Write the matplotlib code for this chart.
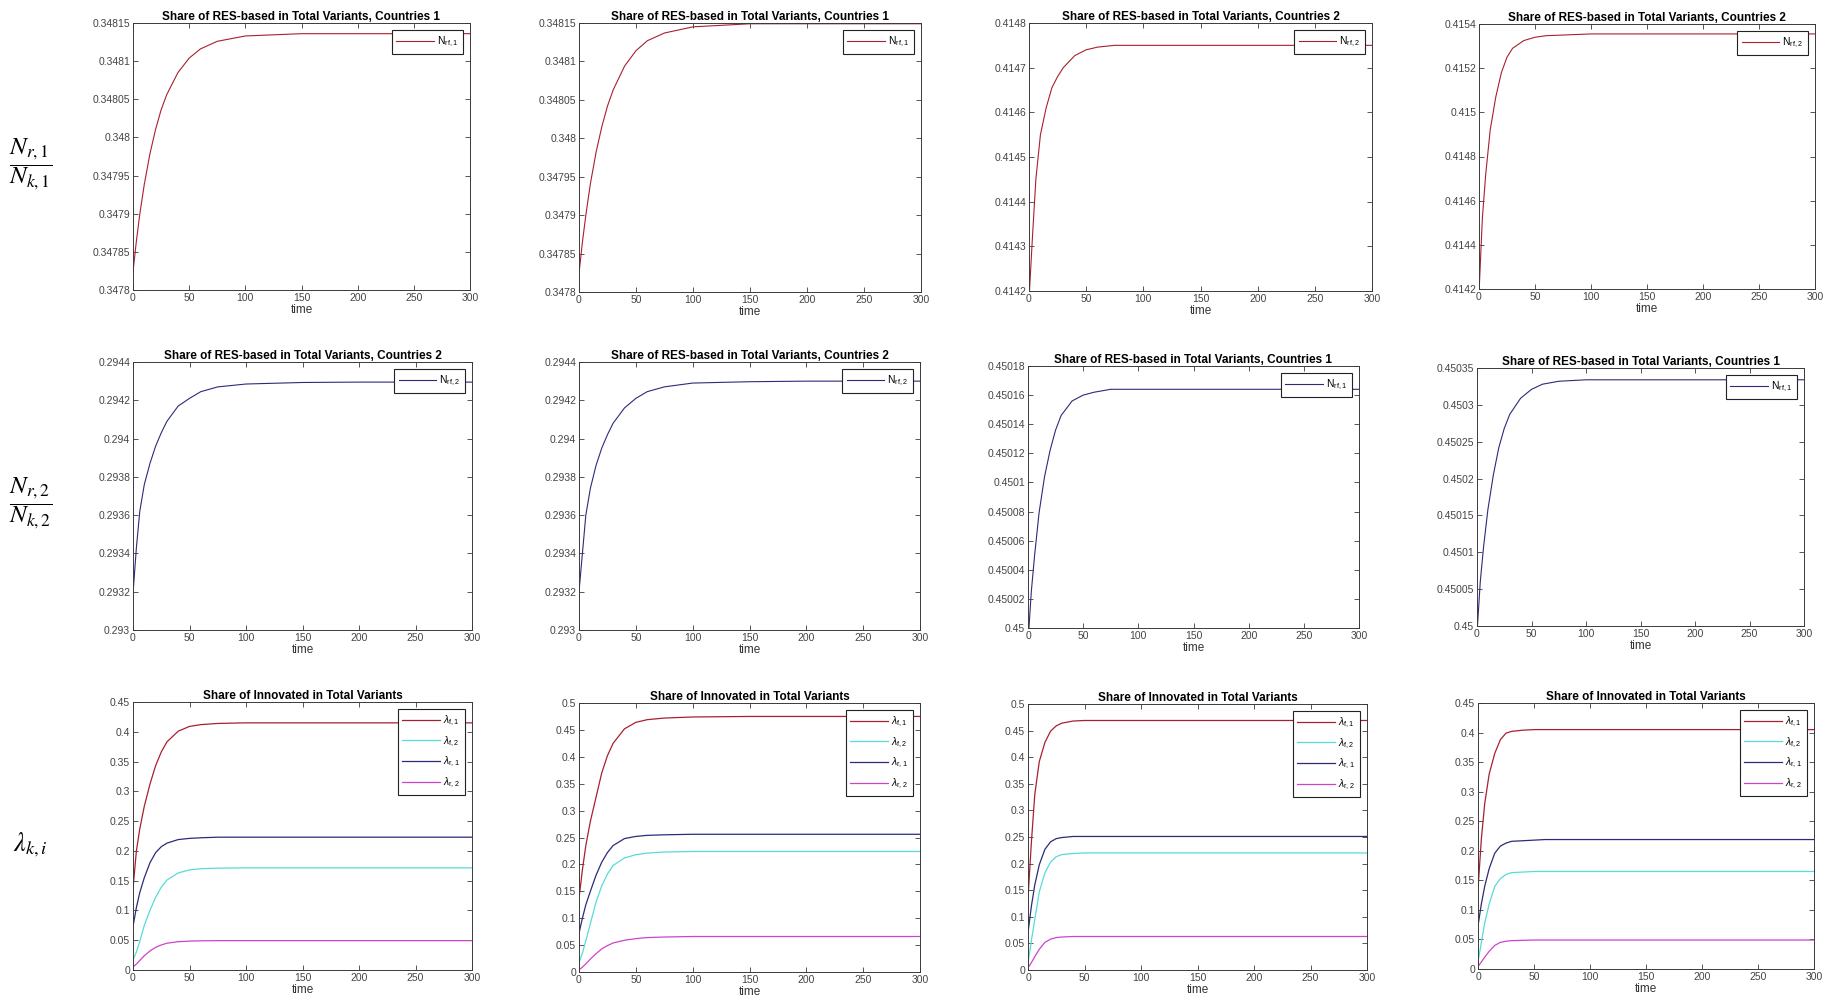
import matplotlib.pyplot as plt
import numpy as np
from matplotlib.ticker import FuncFormatter

plt.rcParams["font.family"] = "Liberation Sans"
plt.rcParams["mathtext.fontset"] = "custom"
plt.rcParams["mathtext.rm"] = "Liberation Sans"
plt.rcParams["mathtext.it"] = "Liberation Sans:italic"
plt.rcParams["mathtext.bf"] = "Liberation Sans:bold"

T = [0, 3, 6, 10, 15, 20, 25, 30, 40, 50, 60, 75, 100, 150, 200, 300]

# row 1: N_r/N_k shares
share_a = [0.347824, 0.347864, 0.347899, 0.347938, 0.347978, 0.348010, 0.348036, 0.348056,
           0.348085, 0.348104, 0.348116, 0.348126, 0.348133, 0.348136, 0.348136, 0.348136]
share_b = [0.347824, 0.347865, 0.347900, 0.347941, 0.347982, 0.348015, 0.348042, 0.348063,
           0.348094, 0.348114, 0.348127, 0.348137, 0.348145, 0.348149, 0.348149, 0.348149]
share_c = [0.41418, 0.41432, 0.41445, 0.41455, 0.41461, 0.414655, 0.41468, 0.4147,
           0.414727, 0.41474, 0.414746, 0.41475, 0.41475, 0.41475, 0.41475, 0.41475]
share_d = [0.41418, 0.41452, 0.41472, 0.41492, 0.41507, 0.41518, 0.41525, 0.41529,
           0.415325, 0.41534, 0.415347, 0.41535, 0.415355, 0.415355, 0.415355, 0.415355]
# row 2
share_e = [0.29319, 0.29343, 0.29362, 0.29376, 0.29387, 0.29396, 0.29403, 0.29409,
           0.29417, 0.29421, 0.294245, 0.29427, 0.294285, 0.294293, 0.294295, 0.294295]
share_f = [0.29320, 0.29340, 0.29360, 0.29374, 0.29386, 0.29395, 0.29402, 0.29408,
           0.29416, 0.29421, 0.294245, 0.29427, 0.29429, 0.294297, 0.2943, 0.2943]
share_g = [0.44999, 0.450025, 0.45005, 0.450079, 0.450104, 0.450122, 0.450136, 0.450146,
           0.450156, 0.45016, 0.450162, 0.450164, 0.450164, 0.450164, 0.450164, 0.450164]
share_h = [0.44999, 0.45006, 0.450107, 0.450158, 0.450205, 0.450242, 0.450268, 0.450287,
           0.450309, 0.450321, 0.450328, 0.450332, 0.450334, 0.450334, 0.450334, 0.450334]

# row 3: lambda shares, one set per column
lam1_f1 = [0.137, 0.20, 0.237, 0.275, 0.312, 0.343, 0.366, 0.383, 0.401, 0.409, 0.412, 0.414, 0.415, 0.415, 0.415, 0.415]
lam1_f2 = [0.017, 0.03, 0.048, 0.075, 0.10, 0.122, 0.139, 0.151, 0.163, 0.168, 0.170, 0.171, 0.1715, 0.1715, 0.1715, 0.1715]
lam1_r1 = [0.073, 0.105, 0.13, 0.155, 0.18, 0.197, 0.207, 0.213, 0.219, 0.221, 0.222, 0.223, 0.223, 0.223, 0.223, 0.223]
lam1_r2 = [0.005, 0.010, 0.016, 0.024, 0.032, 0.038, 0.042, 0.045, 0.0475, 0.0485, 0.049, 0.0493, 0.0493, 0.0493, 0.0493, 0.0493]

lam2_f1 = [0.137, 0.19, 0.235, 0.28, 0.325, 0.37, 0.402, 0.425, 0.452, 0.464, 0.469, 0.472, 0.474, 0.475, 0.475, 0.475]
lam2_f2 = [0.017, 0.035, 0.058, 0.09, 0.13, 0.16, 0.182, 0.198, 0.212, 0.218, 0.221, 0.223, 0.224, 0.224, 0.224, 0.224]
lam2_r1 = [0.072, 0.10, 0.125, 0.15, 0.18, 0.204, 0.222, 0.235, 0.248, 0.252, 0.254, 0.255, 0.256, 0.256, 0.256, 0.256]
lam2_r2 = [0.004, 0.009, 0.015, 0.024, 0.034, 0.043, 0.049, 0.054, 0.059, 0.062, 0.064, 0.065, 0.066, 0.066, 0.066, 0.066]

lam3_f1 = [0.135, 0.24, 0.33, 0.392, 0.428, 0.449, 0.459, 0.464, 0.468, 0.469, 0.469, 0.469, 0.469, 0.469, 0.469, 0.469]
lam3_f2 = [0.013, 0.055, 0.095, 0.147, 0.183, 0.203, 0.213, 0.217, 0.219, 0.22, 0.22, 0.22, 0.22, 0.22, 0.22, 0.22]
lam3_r1 = [0.07, 0.12, 0.16, 0.198, 0.227, 0.241, 0.247, 0.249, 0.251, 0.251, 0.251, 0.251, 0.251, 0.251, 0.251, 0.251]
lam3_r2 = [0.004, 0.014, 0.025, 0.039, 0.052, 0.058, 0.061, 0.062, 0.063, 0.063, 0.063, 0.063, 0.063, 0.063, 0.063, 0.063]

lam4_f1 = [0.135, 0.22, 0.28, 0.33, 0.365, 0.388, 0.399, 0.402, 0.404, 0.405, 0.405, 0.405, 0.405, 0.405, 0.405, 0.405]
lam4_f2 = [0.012, 0.045, 0.078, 0.11, 0.14, 0.153, 0.16, 0.163, 0.164, 0.165, 0.165, 0.165, 0.165, 0.165, 0.165, 0.165]
lam4_r1 = [0.073, 0.11, 0.14, 0.17, 0.196, 0.208, 0.213, 0.216, 0.217, 0.218, 0.219, 0.219, 0.219, 0.219, 0.219, 0.219]
lam4_r2 = [0.004, 0.012, 0.02, 0.03, 0.04, 0.045, 0.047, 0.048, 0.0485, 0.049, 0.049, 0.049, 0.049, 0.049, 0.049, 0.049]

TITLE_RES = "Share of RES-based in Total Variants, Countries {}"
TITLE_INN = "Share of Innovated in Total Variants"
LAMBDA_LABELS = [r"$\lambda_{\mathrm{f,1}}$", r"$\lambda_{\mathrm{f,2}}$",
                 r"$\lambda_{\mathrm{r,1}}$", r"$\lambda_{\mathrm{r,2}}$"]

RED = "#a8202f"
NAVY = "#2b2b7a"
CYAN = "#55dcd8"
MAGENTA = "#cc44cc"
AX_COLOR = "#3a3a3a"

W, H = 1834, 1006

# axes boxes in pixels: left, top, right, bottom
boxes = [
    [(133, 23, 470, 290), (579, 23, 921, 292), (1029, 23, 1372, 291), (1479, 24, 1815, 289)],
    [(133, 362, 472, 630), (579, 362, 920, 630), (1028, 366, 1359, 628), (1477, 368, 1804, 626)],
    [(133, 702, 472, 970), (579, 703, 920, 972), (1028, 704, 1367, 970), (1478, 703, 1814, 969)],
]

share_panels = [
    [(share_a, 1, (0.3478, 0.34815, 8), RED), (share_b, 1, (0.3478, 0.34815, 8), RED),
     (share_c, 2, (0.4142, 0.4148, 7), RED), (share_d, 2, (0.4142, 0.4154, 7), RED)],
    [(share_e, 2, (0.293, 0.2944, 8), NAVY), (share_f, 2, (0.293, 0.2944, 8), NAVY),
     (share_g, 1, (0.45, 0.45018, 10), NAVY), (share_h, 1, (0.45, 0.45035, 8), NAVY)],
]
lambda_panels = [
    ((lam1_f1, lam1_f2, lam1_r1, lam1_r2), (0, 0.45, 10)),
    ((lam2_f1, lam2_f2, lam2_r1, lam2_r2), (0, 0.5, 11)),
    ((lam3_f1, lam3_f2, lam3_r1, lam3_r2), (0, 0.5, 11)),
    ((lam4_f1, lam4_f2, lam4_r1, lam4_r2), (0, 0.45, 10)),
]

fig = plt.figure(figsize=(W / 100, H / 100), dpi=100)


def make_axes(box):
    l, t, r, b = box
    ax = fig.add_axes([l / W, 1 - b / H, (r - l) / W, (b - t) / H])
    ax.set_xlim(0, 300)
    ax.set_xticks(range(0, 301, 50))
    ax.tick_params(direction="in", top=True, right=True, length=3.5, width=0.6,
                   labelsize=7.5, labelcolor="#444444", color=AX_COLOR, pad=2)
    for s in ax.spines.values():
        s.set_color(AX_COLOR)
        s.set_linewidth(0.7)
    ax.yaxis.set_major_formatter(FuncFormatter(lambda v, p: f"{v:g}"))
    ax.set_xlabel("time", fontsize=8.5, color="#333333", labelpad=1)
    return ax


def legend(ax):
    leg = ax.legend(loc="upper right", fontsize=7.5, handlelength=3.6, handletextpad=0.3,
                    borderpad=0.45, labelspacing=0.6, borderaxespad=0.7, fancybox=False,
                    framealpha=1)
    leg.get_frame().set_edgecolor("#222222")
    leg.get_frame().set_linewidth(0.8)


for row in range(2):
    for col in range(4):
        vals, country, (lo, hi, n), color = share_panels[row][col]
        ax = make_axes(boxes[row][col])
        ax.plot(T, vals, color=color, lw=0.8,
                label=r"$\mathrm{N}_{\mathrm{rf,%d}}$" % country)
        ax.set_ylim(lo, hi)
        ax.set_yticks(np.linspace(lo, hi, n))
        ax.set_title(TITLE_RES.format(country), fontsize=8.5, fontweight="bold", pad=2)
        legend(ax)

for col in range(4):
    series, (lo, hi, n) = lambda_panels[col]
    ax = make_axes(boxes[2][col])
    for vals, color, lab in zip(series, [RED, CYAN, NAVY, MAGENTA], LAMBDA_LABELS):
        ax.plot(T, vals, color=color, lw=0.9, label=lab)
    ax.set_ylim(lo, hi)
    ax.set_yticks(np.linspace(lo, hi, n))
    ax.set_title(TITLE_INN, fontsize=8.5, fontweight="bold", pad=2)
    legend(ax)

# row labels on the far left
fig.text(31 / W, 1 - 164 / H, r"$\dfrac{N_{r,1}}{N_{k,1}}$", fontsize=18,
         math_fontfamily="stix", ha="center", va="center")
fig.text(31 / W, 1 - 503 / H, r"$\dfrac{N_{r,2}}{N_{k,2}}$", fontsize=18,
         math_fontfamily="stix", ha="center", va="center")
fig.text(30 / W, 1 - 845 / H, r"$\lambda_{k,i}$", fontsize=19,
         math_fontfamily="stix", ha="center", va="center")

fig.savefig("out.png", dpi=100)
